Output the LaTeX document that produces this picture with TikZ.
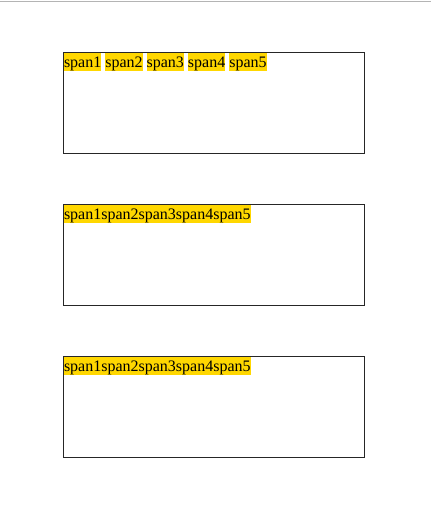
\documentclass[tikz,border=0pt]{standalone}
\usepackage{fontspec}
\setmainfont{Liberation Serif}
\usetikzlibrary{positioning}
\definecolor{spangold}{HTML}{FFD700}
\definecolor{rulegray}{HTML}{B4B4B4}
\tikzset{
    divbox/.style={draw=black!85, line width=0.75pt, inner sep=0pt, outer sep=0pt,
        minimum width=225.75pt, minimum height=75.75pt, anchor=north west},
    spanbox/.style={fill=spangold, inner sep=0pt, outer sep=0pt, font=\fontsize{12pt}{13.5pt}\selectfont,
        text height=10.7pt, text depth=2.6pt},
}

\begin{document}
\begin{tikzpicture}[x=0.75pt, y=-0.75pt]
    \useasboundingbox (0,0) rectangle (431,517);
    % top rule
    \draw[rulegray, line width=0.75pt] (0,1.5) -- (431,1.5);
    % the three boxes
    \foreach \b/\top/\gap in {1/52.5/3pt, 2/204.5/0pt, 3/356.5/0pt}{
        \node[divbox] (box\b) at (63.5,\top) {};
        \node[spanbox, anchor=north west] (s\b1) at ([shift={(0.5,0.5)}]box\b.north west) {span1};
        \foreach \i [count=\j from 1] in {2,...,5}{
            \node[spanbox, right=\gap of s\b\j] (s\b\i) {span\i};
        }
    }
\end{tikzpicture}
\end{document}
